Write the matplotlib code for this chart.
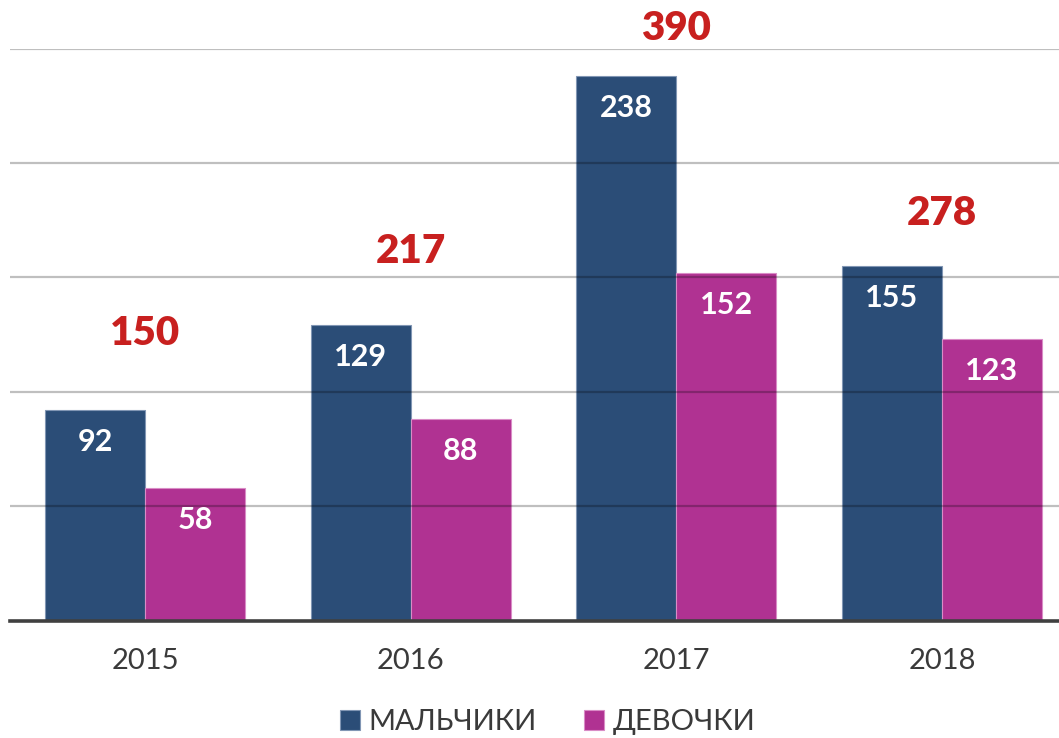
import numpy as np
import matplotlib.pyplot as plt

###############################################################################
# Data
years = ['2015', '2016', '2017', '2018']
boys = [92, 129, 238, 155]
girls = [58, 88, 152, 123]
totals = [150, 217, 390, 278]
series_names = ['МАЛЬЧИКИ', 'ДЕВОЧКИ']

# Styles
c_boys = '#2b4d77'
c_girls = '#b03292'
c_total = '#c8201f'
c_text = '#3a3a3a'
plt.rcParams['font.family'] = ['Lato', 'DejaVu Sans']

###############################################################################
# Figure / axes
fig = plt.figure(figsize=(10.59, 7.38), dpi=100)
ax = fig.add_axes([10 / 1059, 117.3 / 738, 1 - 10 / 1059, (620.7 - 48.5) / 738])

x = np.arange(len(years))
w = 0.376
b1 = ax.bar(x - w / 2, boys, w, color=c_boys, edgecolor='#8196b4', linewidth=0.8,
            label=series_names[0], zorder=2)
b2 = ax.bar(x + w / 2, girls, w, color=c_girls, edgecolor='#d98cc6', linewidth=0.8,
            label=series_names[1], zorder=2)

# gridlines drawn over the bars, semi-transparent
for g in range(50, 251, 50):
    ax.axhline(g, color='black', alpha=0.25, lw=1.6, zorder=3)
ax.axhline(0, color='#404040', lw=2.6, zorder=4, clip_on=False)

ax.set_xlim(-(145 - 10) / 265.67, 3 + (1059 - 942) / 265.67)
ax.set_ylim(0, 250)

# value labels inside the bars
for bars, vals in ((b1, boys), (b2, girls)):
    for r, v in zip(bars, vals):
        ax.annotate(str(v), (r.get_x() + r.get_width() / 2, v), xytext=(0, -23),
                    textcoords='offset points', ha='center', va='center',
                    color='white', fontsize=22, fontweight='bold', zorder=5)

# totals above each group
total_offsets = [55, 53, 34, 38]
for i, (t, off) in enumerate(zip(totals, total_offsets)):
    ax.annotate(str(t), (i, max(boys[i], girls[i])), xytext=(0, off),
                textcoords='offset points', ha='center', va='center',
                color=c_total, fontsize=29, fontweight='heavy', annotation_clip=False)

ax.set_xticks(x)
ax.set_xticklabels(years, fontsize=21, color=c_text)
ax.tick_params(axis='x', length=0, pad=20)
ax.set_yticks([])
for s in ax.spines.values():
    s.set_visible(False)

leg = fig.legend(handles=[b1, b2], loc='center', bbox_to_anchor=(0.517, 16 / 738),
                 ncol=2, frameon=False, fontsize=21, handlelength=0.7, handleheight=0.7,
                 handletextpad=0.3, columnspacing=1.6, borderaxespad=0)
for t in leg.get_texts():
    t.set_color(c_text)

fig.savefig('out.png', dpi=100)
